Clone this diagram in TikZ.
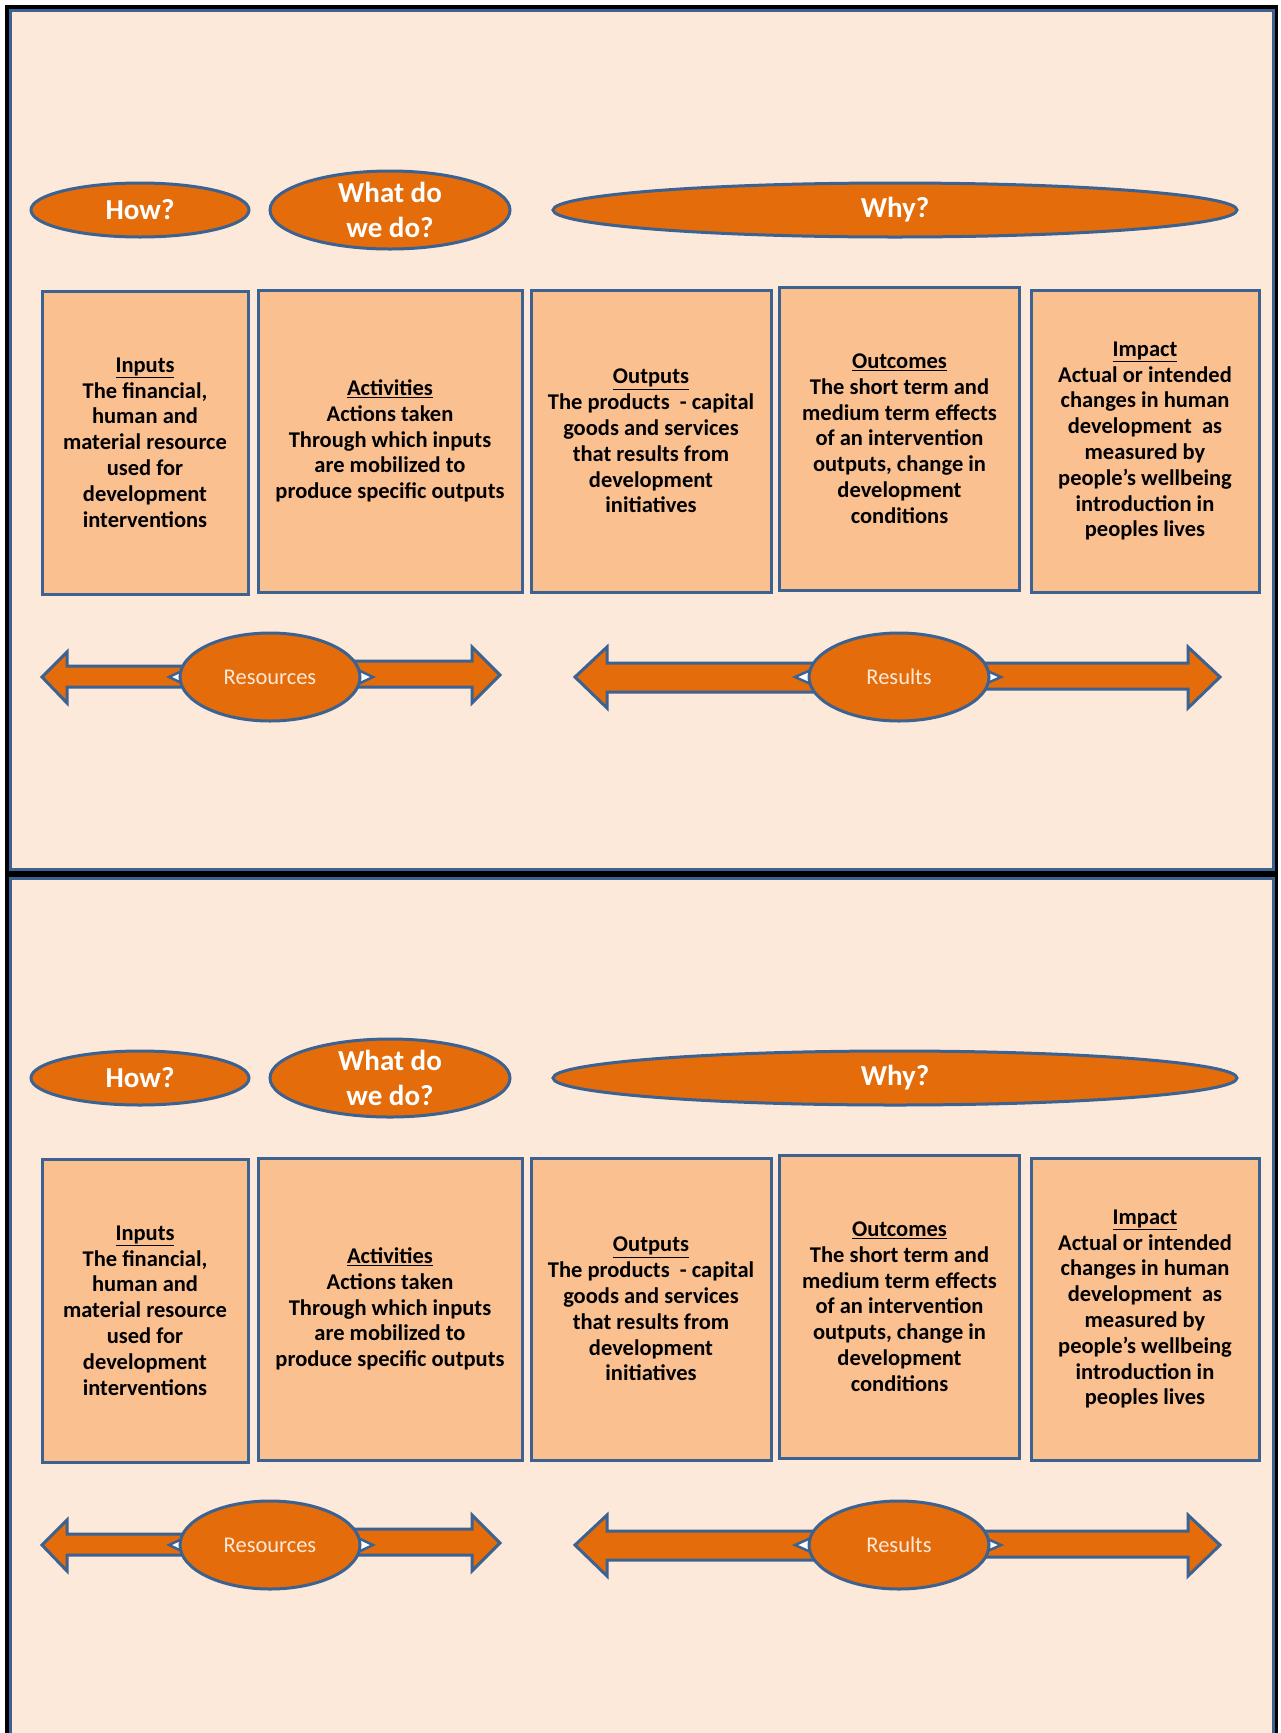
\documentclass[tikz,border=0pt]{standalone}
\usepackage{fontspec}
\setmainfont{Carlito}
\usetikzlibrary{shapes.geometric}
\definecolor{panelbg}{HTML}{FDE9D9}
\definecolor{boxfill}{HTML}{FAC090}
\definecolor{ovalfill}{HTML}{E46C0A}
\definecolor{rim}{HTML}{3C6291}
\tikzset{
    frame/.style={draw=black, line width=3.5pt},
    panel/.style={fill=panelbg, draw=rim, line width=3pt},
    stage/.style={rectangle, fill=boxfill, draw=rim, line width=3pt,
        inner sep=0pt, align=center,
        font=\bfseries\fontsize{22.5}{25.8}\selectfont},
    oval/.style={ellipse, fill=ovalfill, draw=rim, line width=3pt, inner sep=0pt},
    ovaltext/.style={text=white, align=center,
        font=\bfseries\fontsize{29}{35}\selectfont},
    hubtext/.style={text=panelbg, font=\fontsize{22.5}{27}\selectfont},
    blockarrow/.style={fill=ovalfill, draw=rim, line width=3pt, line join=miter},
    notch/.style={fill=white, draw=rim, line width=2.5pt, line join=miter}
}
\def\gap{868}

\begin{document}
\begin{tikzpicture}[x=1pt, y=-1pt]
    \useasboundingbox (0,0) rectangle (1281,1733);
    \clip (0,0) rectangle (1281,1733);
    \foreach \oy/\p in {0/a, \gap/b} {
        % slide background
        \draw[frame] (7,7+\oy) rectangle (1276,873+\oy);
        \draw[panel] (10,10+\oy) rectangle (1273,869+\oy);

        % questions
        \draw
            node[oval, minimum width=218pt, minimum height=54pt] (how-\p) at (140,210+\oy) {}
            node[oval, minimum width=240pt, minimum height=78pt] (what-\p) at (390,210+\oy) {}
            node[oval, minimum width=684pt, minimum height=54pt] (why-\p) at (895,210+\oy) {}
        ;
        \node[ovaltext] (howtxt-\p) at (how-\p) {How?};
        \node[ovaltext] (whattxt-\p) at (what-\p) {What do\\we do?};
        \node[ovaltext] (whytxt-\p) at (why-\p) {Why?};

        % chain stages
        \node[stage, minimum width=206pt, minimum height=303pt] (inputs-\p) at (145,442.5+\oy)
            {\underline{Inputs}\\The financial,\\human and\\material resource\\used for\\development\\interventions};
        \node[stage, minimum width=264pt, minimum height=302pt] (activities-\p) at (390,441+\oy)
            {\underline{Activities}\\Actions taken\\Through which inputs\\are mobilized to\\produce specific outputs};
        \node[stage, minimum width=240pt, minimum height=302pt] (outputs-\p) at (651,441+\oy)
            {\underline{Outputs}\\The products~ - capital\\goods and services\\that results from\\development\\initiatives};
        \node[stage, minimum width=240pt, minimum height=303pt] (outcomes-\p) at (899.5,438.5+\oy)
            {\underline{Outcomes}\\The short term and\\medium term effects\\of an intervention\\outputs, change in\\development\\conditions};
        \node[stage, minimum width=228pt, minimum height=302pt] (impact-\p) at (1145,441+\oy)
            {\underline{Impact}\\Actual or intended\\changes in human\\development~ as\\measured by\\people’s wellbeing\\introduction in\\peoples lives};

        % resources
        \begin{scope}[shift={(270,677+\oy)}]
            \draw[blockarrow] (-228,0) -- (-203,-25) -- (-203,-11) -- (-60,-11)
                -- (-60,10) -- (-203,10) -- (-203,26) -- cycle;
            \draw[blockarrow] (60,-16) -- (202,-16) -- (202,-30) -- (230,-2)
                -- (202,26) -- (202,10) -- (60,10) -- cycle;
            \draw[notch] (-101,0) -- (-84,-8) -- (-84,8) -- cycle;
            \draw[notch] (103,0) -- (86,-8) -- (86,8) -- cycle;
            \node[oval, minimum width=180pt, minimum height=88pt] (res-\p) at (0,0) {};
            \node[hubtext] (restxt-\p) at (res-\p) {Resources};
        \end{scope}

        % results
        \begin{scope}[shift={(899,677+\oy)}]
            \draw[blockarrow] (-324,0) -- (-292,-30) -- (-292,-14) -- (-60,-14)
                -- (-60,15) -- (-292,15) -- (-292,31) -- cycle;
            \draw[blockarrow] (60,-14) -- (289,-14) -- (289,-30) -- (321,0)
                -- (289,31) -- (289,12) -- (60,12) -- cycle;
            \draw[notch] (-104,0) -- (-86,-8) -- (-86,8) -- cycle;
            \draw[notch] (102,0) -- (84,-8) -- (84,8) -- cycle;
            \node[oval, minimum width=180pt, minimum height=88pt] (rslt-\p) at (0,0) {};
            \node[hubtext] (rslttxt-\p) at (rslt-\p) {Results};
        \end{scope}
    }
\end{tikzpicture}
\end{document}
